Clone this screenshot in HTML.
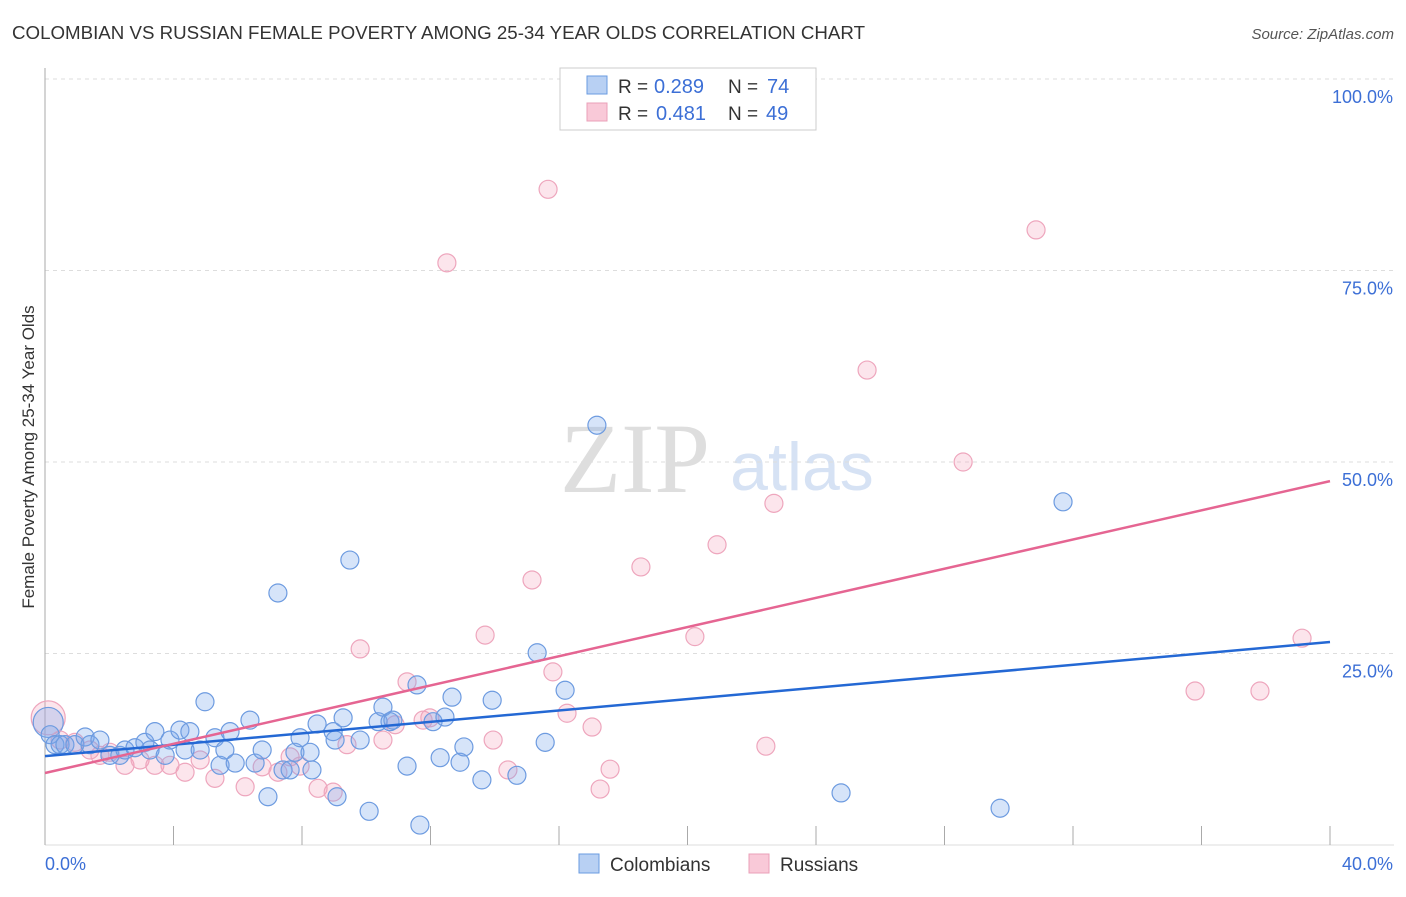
<!DOCTYPE html>
<html><head><meta charset="utf-8"><style>
body{margin:0;background:#fff;font-family:"Liberation Sans",sans-serif;}
</style></head><body>
<svg id="c" width="1406" height="892" font-family="Liberation Sans, sans-serif">
<text x="12" y="39" font-size="18" fill="#333" textLength="853" lengthAdjust="spacingAndGlyphs">COLOMBIAN VS RUSSIAN FEMALE POVERTY AMONG 25-34 YEAR OLDS CORRELATION CHART</text>
<text x="1394" y="39" font-size="15" fill="#555" text-anchor="end" font-style="italic">Source: ZipAtlas.com</text>
<text x="635" y="492" font-size="100" fill="#dedede" style="font-family:'Liberation Serif',serif" text-anchor="middle">ZIP</text>
<text x="802" y="490" font-size="68" fill="#d6e2f4" text-anchor="middle">atlas</text>
<text transform="translate(34,457) rotate(-90)" font-size="17" fill="#333" text-anchor="middle">Female Poverty Among 25-34 Year Olds</text>
<g id="grid"></g><g id="pts"></g><g id="trend"></g>
<g>
<rect x="560" y="68" width="256" height="62" fill="#fff" stroke="#ccc"/>
<rect x="587" y="76" width="20" height="18" fill="#b8d0f3" stroke="#6a9be0"/>
<rect x="587" y="103" width="20" height="18" fill="#f9c9d8" stroke="#eaa0b8"/>
<text x="618" y="93" font-size="19" fill="#333">R =</text><text x="654" y="93" font-size="20" fill="#3c6fd6">0.289</text>
<text x="728" y="93" font-size="19" fill="#333">N =</text><text x="767" y="93" font-size="20" fill="#3c6fd6">74</text>
<text x="618" y="120" font-size="19" fill="#333">R =</text><text x="656" y="120" font-size="20" fill="#3c6fd6">0.481</text>
<text x="728" y="120" font-size="19" fill="#333">N =</text><text x="766" y="120" font-size="20" fill="#3c6fd6">49</text>
</g>
<g>
<rect x="579" y="854" width="20" height="19" fill="#b8d0f3" stroke="#6a9be0"/>
<text x="610" y="871" font-size="19" fill="#333">Colombians</text>
<rect x="749" y="854" width="20" height="19" fill="#f9c9d8" stroke="#eaa0b8"/>
<text x="780" y="871" font-size="19" fill="#333">Russians</text>
</g>
</svg>
<script>
const xTicks=[0,40];
const yTicks=[25,50,75,100];
const blueX=[0.16,0.31,0.47,0.62,0.93,1.25,1.4,1.71,2.02,2.33,2.49,2.8,3.11,3.27,3.42,3.74,3.89,4.2,4.36,4.51,4.83,4.98,5.29,5.45,5.6,5.76,5.92,6.38,6.54,6.76,6.94,7.25,7.41,7.63,7.78,7.94,8.25,8.31,8.47,8.97,9.09,9.28,9.49,9.03,9.81,10.09,10.37,10.52,10.74,10.83,11.27,11.58,12.08,12.3,12.45,12.67,12.92,13.04,13.6,13.92,14.69,15.32,15.57,16.19,17.18,24.78,29.73,31.69,11.67];
const blueY=[14.4,13.1,13.1,13.1,13.1,14.1,13.1,13.7,11.7,11.7,12.4,12.7,13.4,12.4,14.8,11.7,13.7,15.0,12.4,14.8,12.4,18.7,14.0,10.4,12.4,14.8,10.7,16.3,10.7,12.4,6.3,32.9,9.8,9.8,12.1,14.0,12.1,9.8,15.8,14.8,6.3,16.6,37.2,13.7,13.7,4.4,16.1,18.0,16.1,16.3,10.3,20.9,16.1,11.4,16.7,19.3,10.8,12.8,8.5,18.9,9.1,25.1,13.4,20.2,54.8,6.8,4.8,44.8,2.6];
const pinkX=[0.47,0.93,1.4,1.71,2.02,2.49,2.96,3.42,3.89,4.36,4.83,5.29,6.23,6.76,7.25,7.63,7.94,8.5,8.97,9.4,9.81,10.52,10.9,11.27,11.77,11.98,12.51,13.7,13.95,14.41,15.16,15.66,15.81,16.25,17.03,17.28,17.59,18.55,20.23,20.92,22.44,22.69,25.59,28.58,30.85,35.8,37.82,39.13];
const pinkY=[13.7,13.4,12.4,11.7,12.1,10.4,11.1,10.4,10.4,9.5,11.1,8.7,7.6,10.2,9.5,11.5,10.3,7.4,6.9,13.1,25.6,13.7,15.7,21.3,16.3,16.6,76.0,27.4,13.7,9.8,34.6,85.6,22.6,17.2,15.4,7.3,9.9,36.3,27.2,39.2,12.9,44.6,62.0,50.0,80.3,20.1,20.1,27.0];
const bigBlue=[0.1,16.0], bigPink=[0.1,16.6];
const blueTrend=[11.6,26.5], pinkTrend=[9.4,47.5];
const NS='http://www.w3.org/2000/svg';
const X=v=>45+v/40*1285, Y=v=>845-v/100*766;
function mk(t,a,p){const e=document.createElementNS(NS,t);for(const k in a)e.setAttribute(k,a[k]);p.appendChild(e);return e;}
const g=document.getElementById('grid');
yTicks.forEach(t=>{const l=mk('line',{x1:45,x2:1394,y1:Y(t),y2:Y(t),stroke:'#ddd','stroke-dasharray':'4,4'},g);


const tx=mk('text',{x:1393,y:Y(t)+24,'font-size':18,fill:'#3c6fd6','text-anchor':'end'},g);tx.textContent=t.toFixed(1)+'%';

});
mk('line',{x1:45,x2:45,y1:68,y2:845,stroke:'#aaa'},g);
mk('line',{x1:45,x2:1394,y1:845,y2:845,stroke:'#ddd'},g);
for(let i=0;i<=10;i++){const xx=X(i*4);const l=mk('line',{x1:xx,x2:xx,y1:826,y2:845,stroke:'#aaa'},g);

}
xTicks.forEach((t,i)=>{const tx=mk('text',{x:i?1393:45,y:870,'font-size':18,fill:'#3c6fd6','text-anchor':i?'end':'start'},g);tx.textContent=t.toFixed(1)+'%';

});
const p=document.getElementById('pts');
function dot(x,y,r,blue){const c=mk('circle',{cx:X(x),cy:Y(y),r:r,fill:blue?'rgba(120,165,235,0.3)':'rgba(245,160,185,0.28)',stroke:blue?'#6d9be0':'#eea6bd','stroke-width':1.2},p);

}
dot(bigPink[0],bigPink[1],17,false);dot(bigBlue[0],bigBlue[1],15,true);
pinkX.forEach((x,i)=>dot(x,pinkY[i],9,false));
blueX.forEach((x,i)=>dot(x,blueY[i],9,true));
const tr=document.getElementById('trend');
const bl=mk('line',{x1:X(0),y1:Y(blueTrend[0]),x2:X(40),y2:Y(blueTrend[1]),stroke:'#2468d4','stroke-width':2.5},tr);


const pl=mk('line',{x1:X(0),y1:Y(pinkTrend[0]),x2:X(40),y2:Y(pinkTrend[1]),stroke:'#e56592','stroke-width':2.5},tr);


</script>
</body></html>
